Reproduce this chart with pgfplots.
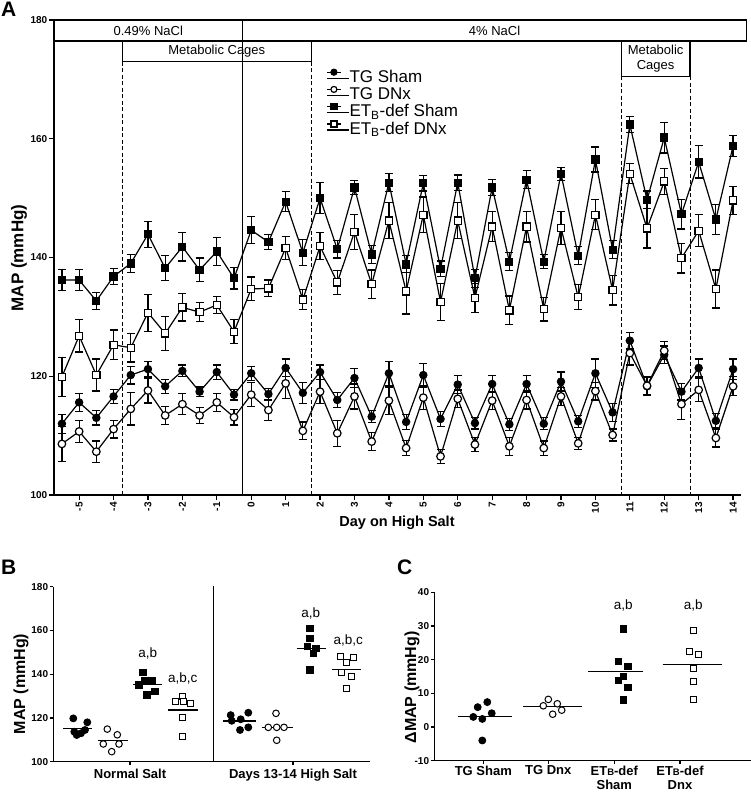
\documentclass[border=0pt]{standalone}
\usepackage{fontspec}
\setmainfont{Liberation Sans}
\usepackage{pgfplots}
\pgfplotsset{compat=1.18}
\usepackage{pgfplotstable}

\newcommand\tickfont{\bfseries\fontsize{10}{10}\selectfont}
\newcommand\boxfont{\fontsize{13}{14.3}\selectfont}
\newcommand\annfont{\fontsize{13.5}{13.5}\selectfont}
\newcommand\legfont{\fontsize{17}{17}\selectfont}

\pgfplotstableread{
x y e
-5.5 112.0 1.6
-5 115.6 1.5
-4.5 113.0 1.2
-4 116.6 1.2
-3.5 120.2 1.5
-3 121.2 1.3
-2.5 118.3 1.2
-2 120.9 1.0
-1.5 117.4 0.8
-1 120.7 1.2
-0.5 116.9 0.9
0 120.5 1.2
0.5 117.0 1.0
1 121.4 1.5
1.5 117.2 1.8
2 120.7 1.2
2.5 116.0 1.2
3 119.7 1.6
3.5 113.2 1.0
4 120.5 2.0
4.5 112.3 1.3
5 120.2 2.0
5.5 112.8 1.3
6 118.6 1.5
6.5 112.1 1.0
7 118.7 1.4
7.5 111.9 1.0
8 118.7 1.4
8.5 112.0 1.0
9 119.1 1.6
9.5 112.4 1.0
10 120.5 2.4
10.5 113.9 1.5
11 126.0 1.4
11.5 118.3 1.5
12 123.6 1.5
12.5 117.4 1.4
13 121.4 1.5
13.5 112.5 1.2
14 121.2 1.7
}\tgsham

\pgfplotstableread{
x y e
-5.5 108.6 3.0
-5 110.7 1.8
-4.5 107.3 1.8
-4 111.1 1.5
-3.5 114.5 2.7
-3 117.6 2.1
-2.5 113.4 1.5
-2 115.3 1.8
-1.5 113.4 1.3
-1 115.6 1.5
-0.5 113.1 1.3
0 116.9 2.0
0.5 114.3 1.8
1 118.8 2.5
1.5 110.8 1.5
2 117.4 2.0
2.5 110.4 2.2
3 116.6 2.1
3.5 109.0 1.5
4 115.9 2.3
4.5 107.9 1.3
5 116.4 2.0
5.5 106.5 1.2
6 116.2 1.5
6.5 108.5 1.2
7 115.9 1.5
7.5 108.2 1.5
8 116.0 1.5
8.5 107.9 1.2
9 116.6 1.5
9.5 108.7 1.0
10 117.5 1.5
10.5 110.1 1.0
11 123.9 2.0
11.5 118.4 1.5
12 124.3 1.5
12.5 115.3 2.6
13 117.7 2.0
13.5 109.6 1.5
14 118.3 1.6
}\tgdnx

\pgfplotstableread{
x y e
-5.5 136.2 1.8
-5 136.2 1.8
-4.5 132.7 1.4
-4 136.8 1.4
-3.5 139.0 1.5
-3 143.9 2.2
-2.5 138.2 2.1
-2 141.8 2.4
-1.5 137.9 2.0
-1 141.0 2.4
-0.5 136.5 1.8
0 144.6 2.3
0.5 142.6 1.3
1 149.4 1.7
1.5 140.8 2.2
2 150.0 2.6
2.5 141.4 1.5
3 151.8 1.2
3.5 140.5 1.5
4 152.6 1.5
4.5 138.9 1.4
5 152.5 1.3
5.5 138.1 1.3
6 152.6 1.3
6.5 136.5 1.5
7 151.8 1.4
7.5 139.3 1.5
8 153.1 1.5
8.5 139.3 1.2
9 154.1 1.1
9.5 140.3 1.5
10 156.5 2.1
10.5 141.3 1.5
11 162.4 1.3
11.5 149.7 1.5
12 160.2 2.6
12.5 147.3 2.5
13 156.1 2.7
13.5 146.4 2.5
14 158.8 1.8
}\etsham

\pgfplotstableread{
x y e
-5.5 119.9 3.3
-5 126.8 2.7
-4.5 120.2 2.7
-4 125.3 2.5
-3.5 124.8 2.4
-3 130.7 3.1
-2.5 127.2 2.9
-2 131.6 2.3
-1.5 130.8 1.6
-1 132.0 1.4
-0.5 127.5 2.0
0 134.7 2.0
0.5 134.8 1.4
1 141.6 2.0
1.5 132.9 1.7
2 141.9 2.3
2.5 135.8 2.0
3 144.3 2.9
3.5 135.5 2.4
4 146.2 3.0
4.5 134.3 3.8
5 147.2 3.0
5.5 132.5 3.1
6 146.2 3.0
6.5 133.2 2.4
7 145.2 2.5
7.5 131.1 2.4
8 145.2 2.6
8.5 131.3 2.0
9 145.0 2.8
9.5 133.3 2.1
10 147.2 2.5
10.5 134.5 2.5
11 154.1 1.7
11.5 144.9 3.3
12 152.8 2.2
12.5 139.9 2.5
13 144.5 2.7
13.5 134.7 3.2
14 149.6 2.3
}\etdnx

\pgfplotsset{
  panel/.style={
    scale only axis, anchor=south west,
    axis x line*=bottom, axis y line*=left,
    axis line style={-, line width=1.2pt},
    tick align=outside, major tick length=5pt,
    every tick/.style={black, line width=1.2pt},
    tick label style={font=\tickfont},
    yticklabel style={inner xsep=1.5pt},
    /pgf/number format/assume math mode=true,
    clip=false,
  },
  eb/.style={error bars/.cd, y dir=both, y explicit,
    error bar style={line width=1.2pt, solid},
    error mark options={line width=1.2pt, mark size=4pt, rotate=90}},
  fcirc/.style={black, line width=1.2pt, mark=*, mark size=3.6pt, mark options={solid, fill=black}},
  ocirc/.style={black, line width=1.2pt, mark=*, mark size=3.8pt, mark options={solid, fill=white}},
  fsq/.style={black, line width=1.2pt, mark=square*, mark size=3.5pt, mark options={solid, fill=black}},
  osq/.style={black, line width=1.2pt, mark=square*, mark size=3.6pt, mark options={solid, fill=white}},
  sfc/.style={only marks, mark=*, mark size=3.5pt, mark options={fill=black, draw=black, line width=0.8pt}},
  soc/.style={only marks, mark=*, mark size=3.3pt, mark options={fill=white, draw=black, line width=1pt}},
  sfs/.style={only marks, mark=square*, mark size=3.2pt, mark options={fill=black, draw=black, line width=0.8pt}},
  sos/.style={only marks, mark=square*, mark size=3.0pt, mark options={fill=white, draw=black, line width=1pt}},
  meanl/.style={black, line width=1.2pt, no marks},
}

\begin{document}
\begin{tikzpicture}[x=1pt,y=1pt]

% ---------------- Panel A ----------------
\begin{axis}[panel,
  at={(54pt,297pt)}, width=687pt, height=475pt,
  xmin=-5.73, xmax=14.23, ymin=100, ymax=180,
  xtick={-5,...,14}, ytick={100,120,...,180},
  xticklabel style={rotate=90, anchor=east, inner xsep=2pt},
  legend style={at={(axis cs:2.176,171.75)}, anchor=north west, draw=none, fill=none,
    row sep=0pt, inner sep=0pt, column sep=0pt,
    nodes={inner sep=0pt, text height=12.5pt, text depth=4pt}},
  legend cell align=left,
  legend image code/.code={\draw[#1] (0pt,6pt) -- (14pt,6pt);
     \draw[#1, mark size=3pt] plot coordinates {(7pt,6pt)};
     \path (0pt,0pt) -- (22pt,0pt);},
]
\addplot[fcirc, eb] table[x=x, y=y, y error=e]{\tgsham};
\addlegendentry{\legfont TG Sham}
\addplot[ocirc, eb] table[x=x, y=y, y error=e]{\tgdnx};
\addlegendentry{\legfont TG DNx}
\addplot[fsq, eb] table[x=x, y=y, y error=e]{\etsham};
\addlegendentry{\legfont ET\textsubscript{B}-def Sham}
\addplot[osq, eb] table[x=x, y=y, y error=e]{\etdnx};
\addlegendentry{\legfont ET\textsubscript{B}-def DNx}

\draw[line width=1.3pt] (axis cs:-5.73,180) rectangle (axis cs:-0.25,176.46);
\draw[line width=1.3pt] (axis cs:-0.25,180) rectangle (axis cs:14.39,176.46);
\draw[line width=1.3pt] (axis cs:-3.75,176.46) rectangle (axis cs:1.75,173.0);
\draw[line width=1.3pt] (axis cs:10.75,176.46) rectangle (axis cs:12.75,170.5);
\draw[line width=1.2pt] (axis cs:-0.25,176.46) -- (axis cs:-0.25,100);
\draw[line width=1.1pt, dash pattern=on 4pt off 2.5pt] (axis cs:-3.75,173) -- (axis cs:-3.75,100);
\draw[line width=1.1pt, dash pattern=on 4pt off 2.5pt] (axis cs:1.75,173) -- (axis cs:1.75,100);
\draw[line width=1.1pt, dash pattern=on 4pt off 2.5pt] (axis cs:10.75,170.5) -- (axis cs:10.75,100);
\draw[line width=1.1pt, dash pattern=on 4pt off 2.5pt] (axis cs:12.75,170.5) -- (axis cs:12.75,100);
\node[font=\boxfont] at (axis cs:-2.99,178.23) {0.49\% NaCl};
\node[font=\boxfont] at (axis cs:7.07,178.23) {4\% NaCl};
\node[font=\boxfont] at (axis cs:-1,174.73) {Metabolic Cages};
\node[font=\boxfont, align=center] at (axis cs:11.75,173.48) {Metabolic\\Cages};
\end{axis}

% ---------------- Panel B ----------------
\begin{axis}[panel,
  at={(53.3pt,30.3pt)}, width=316.7pt, height=175pt,
  major tick length=3.5pt,
  xmin=0, xmax=316.7, ymin=100, ymax=180,
  ytick={100,120,...,180},
  xtick={76.7,239.7}, xticklabels={Normal Salt, Days 13-14 High Salt},
  xticklabel style={font=\bfseries\fontsize{13}{13}\selectfont},
]
\addplot[sfc] coordinates {(20.0,119.8) (34.0,118.0) (21.0,113.7) (23.4,112.2) (27.7,113.0) (31.7,114.5)};
\addplot[meanl] coordinates {(10,115.1) (39,115.1)};
\addplot[soc] coordinates {(54.0,114.9) (64.0,112.3) (50.0,108.1) (65.7,108.1) (58.4,104.6)};
\addplot[meanl] coordinates {(44.4,109.6) (74.4,109.6)};
\addplot[sfs] coordinates {(89.4,140.9) (91.0,137.3) (98.4,137.3) (85.7,135.1) (101.7,132.0) (93.4,130.5)};
\addplot[meanl] coordinates {(80,135.4) (108.4,135.4)};
\addplot[sos] coordinates {(129.0,130.0) (122.4,127.4) (130.4,127.4) (136.7,126.7) (129.0,120.3) (129.0,111.7)};
\addplot[meanl] coordinates {(115,123.6) (144.4,123.6)};

\addplot[sfc] coordinates {(177.4,121.3) (195.0,122.4) (187.4,119.4) (178.4,118.7) (186.7,114.5) (195.0,115.7)};
\addplot[meanl] coordinates {(170,118.6) (202.5,118.6)};
\addplot[soc] coordinates {(222.7,122.1) (215.0,115.7) (223.4,115.7) (230.7,115.7) (223.4,109.8)};
\addplot[meanl] coordinates {(208.4,115.7) (239.4,115.7)};
\addplot[sfs] coordinates {(256.7,161.0) (256.7,156.4) (254.0,152.6) (262.7,151.8) (260.0,149.5) (256.7,141.9)};
\addplot[meanl] coordinates {(243.4,151.9) (272.7,151.9)};
\addplot[sos] coordinates {(287.4,148.3) (300.0,147.7) (293.4,145.3) (288.4,140.7) (297.7,138.9) (292.7,133.5)};
\addplot[meanl] coordinates {(278.4,142.2) (307.4,142.2)};

\draw[line width=1.2pt] (axis cs:160,100) -- (axis cs:160,180.5);
\node[font=\annfont] at (axis cs:94.4,149.5) {a,b};
\node[font=\annfont] at (axis cs:129.4,138.0) {a,b,c};
\node[font=\annfont] at (axis cs:257.4,167.8) {a,b};
\node[font=\annfont] at (axis cs:295,155.6) {a,b,c};
\end{axis}

% ---------------- Panel C ----------------
\begin{axis}[panel,
  at={(434.3pt,31.3pt)}, width=316.4pt, height=168.4pt,
  major tick length=3.5pt,
  xmin=0, xmax=316.4, ymin=-10, ymax=40,
  ytick={-10,0,...,40},
  xtick={49,114,180,245.7},
  xticklabels={TG Sham, TG Dnx, {ET{\fontsize{9.5}{9.5}\selectfont B}-def\\Sham}, {ET{\fontsize{9.5}{9.5}\selectfont B}-def\\Dnx}},
  xticklabel style={font=\bfseries\fontsize{13}{14.5}\selectfont, align=center, anchor=north, yshift=2pt},
]
\addplot[sfc] coordinates {(53.0,7.4) (43.4,5.9) (57.4,4.1) (39.0,3.0) (48.0,2.4) (48.0,-4.0)};
\addplot[meanl] coordinates {(24,3.2) (77.4,3.2)};
\addplot[soc] coordinates {(114.0,8.2) (109.0,6.3) (123.0,6.9) (127.4,5.0) (118.4,3.8)};
\addplot[meanl] coordinates {(89,6.0) (147.4,6.0)};
\addplot[sfs] coordinates {(189.0,29.1) (184.0,19.5) (193.4,18.0) (189.0,15.1) (184.0,13.9) (193.4,11.7) (189.0,8.0)};
\addplot[meanl] coordinates {(154,16.4) (209,16.4)};
\addplot[sos] coordinates {(259.0,28.6) (254.7,22.4) (264.0,21.4) (259.0,17.4) (259.0,13.5) (259.0,8.2)};
\addplot[meanl] coordinates {(228.4,18.6) (287.4,18.6)};
\node[font=\annfont] at (axis cs:189,36.2) {a,b};
\node[font=\annfont] at (axis cs:259,36.2) {a,b};
\end{axis}

% ---------------- labels ----------------
\node[rotate=90, font=\bfseries\fontsize{17}{17}\selectfont] at (19pt,534pt) {MAP (mmHg)};
\node[font=\bfseries\fontsize{14.5}{14.5}\selectfont] at (397pt,269pt) {Day on High Salt};
\node[rotate=90, font=\bfseries\fontsize{16}{16}\selectfont] at (21pt,108pt) {MAP (mmHg)};
\node[rotate=90, font=\bfseries\fontsize{16}{16}\selectfont] at (412pt,104.5pt) {ΔMAP (mmHg)};
\node[anchor=north west, inner sep=0pt, font=\bfseries\fontsize{21}{21}\selectfont] at (1pt,790pt) {A};
\node[anchor=north west, inner sep=0pt, font=\bfseries\fontsize{21}{21}\selectfont] at (1pt,232pt) {B};
\node[anchor=north west, inner sep=0pt, font=\bfseries\fontsize{21}{21}\selectfont] at (397pt,232pt) {C};

\pgfresetboundingbox
\path (0pt,0pt) rectangle (750pt,792pt);
\end{tikzpicture}
\end{document}
